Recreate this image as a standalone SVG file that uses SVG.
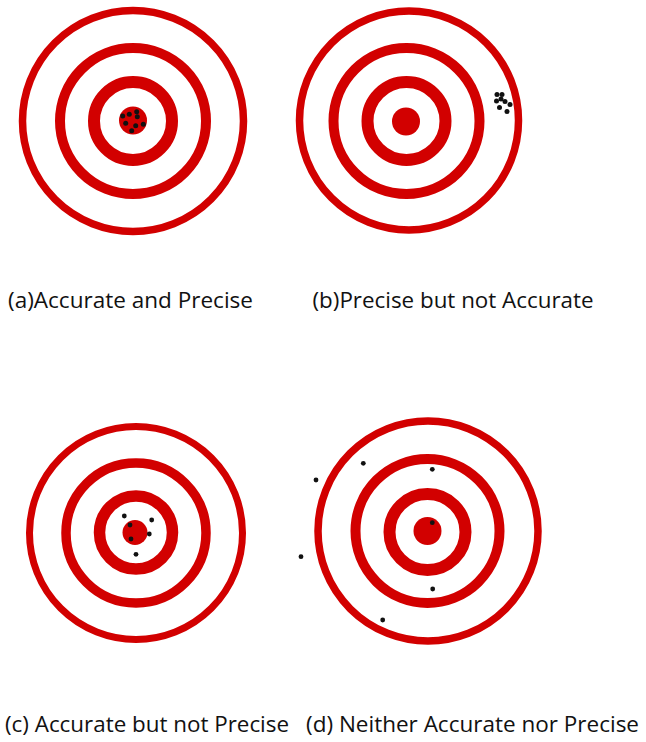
<svg xmlns="http://www.w3.org/2000/svg" width="646" height="742" viewBox="0 0 646 742">
<style>
.ring{fill:none;stroke:#d20000}
.bull{fill:#d20000}
.hit{fill:#111111}
.lbl{font-family:"Open Sans","Noto Sans","Liberation Sans",sans-serif;font-size:22.4px;fill:#111111}
</style>
<rect x="0" y="0" width="646" height="742" fill="#ffffff"/>
<g id="target-a">
<circle class="ring" cx="133" cy="121" r="110.5" stroke-width="7.5"/>
<circle class="ring" cx="133" cy="121" r="73" stroke-width="10"/>
<circle class="ring" cx="133" cy="121" r="39" stroke-width="12"/>
<circle class="bull" cx="133" cy="120.5" r="14"/>
<circle class="hit" cx="122.7" cy="116" r="2.5"/>
<circle class="hit" cx="129.3" cy="114.3" r="2.5"/>
<circle class="hit" cx="136.7" cy="111.7" r="2.5"/>
<circle class="hit" cx="137.3" cy="116.7" r="2.5"/>
<circle class="hit" cx="125.7" cy="123.3" r="2.5"/>
<circle class="hit" cx="135.7" cy="125.7" r="2.5"/>
<circle class="hit" cx="143.3" cy="124.3" r="2.5"/>
<circle class="hit" cx="131.7" cy="130.7" r="2.5"/>
</g>
<g id="target-b">
<circle class="ring" cx="409" cy="120.5" r="109.5" stroke-width="7.5"/>
<circle class="ring" cx="406.5" cy="121" r="73" stroke-width="10"/>
<circle class="ring" cx="406.5" cy="121" r="39" stroke-width="12"/>
<circle class="bull" cx="406" cy="121.5" r="14"/>
<circle class="hit" cx="497" cy="94.5" r="2.5"/>
<circle class="hit" cx="502" cy="94.5" r="2.5"/>
<circle class="hit" cx="496.5" cy="101" r="2.5"/>
<circle class="hit" cx="501" cy="99" r="2.5"/>
<circle class="hit" cx="505" cy="101.5" r="2.5"/>
<circle class="hit" cx="510" cy="104.5" r="2.5"/>
<circle class="hit" cx="499.5" cy="107.5" r="2.5"/>
<circle class="hit" cx="507" cy="111.5" r="2.5"/>
</g>
<g id="target-c">
<circle class="ring" cx="136" cy="533" r="106.5" stroke-width="7"/>
<circle class="ring" cx="136" cy="533" r="70" stroke-width="9.5"/>
<circle class="ring" cx="136" cy="532.5" r="36.5" stroke-width="11.5"/>
<circle class="bull" cx="135" cy="532.5" r="12.5"/>
<circle class="hit" cx="124.3" cy="516" r="2.4"/>
<circle class="hit" cx="151.7" cy="520" r="2.4"/>
<circle class="hit" cx="130" cy="525" r="2.4"/>
<circle class="hit" cx="149.3" cy="534" r="2.4"/>
<circle class="hit" cx="131" cy="539" r="2.4"/>
<circle class="hit" cx="136" cy="554.3" r="2.4"/>
</g>
<g id="target-d">
<circle class="ring" cx="428" cy="531" r="110" stroke-width="7.5"/>
<circle class="ring" cx="427.5" cy="531" r="72" stroke-width="10"/>
<circle class="ring" cx="427.5" cy="532" r="38" stroke-width="12"/>
<circle class="bull" cx="427.5" cy="531" r="14"/>
<circle class="hit" cx="363.3" cy="463.3" r="2.4"/>
<circle class="hit" cx="316" cy="480" r="2.4"/>
<circle class="hit" cx="432.3" cy="469.3" r="2.4"/>
<circle class="hit" cx="432.3" cy="522.7" r="2.4"/>
<circle class="hit" cx="301" cy="556.7" r="2.4"/>
<circle class="hit" cx="432.7" cy="589" r="2.4"/>
<circle class="hit" cx="382.7" cy="620" r="2.4"/>
</g>
<g id="labels">
<text class="lbl" x="8" y="307.5" textLength="245" lengthAdjust="spacingAndGlyphs">(a)Accurate and Precise</text>
<text class="lbl" x="312.5" y="307.5" textLength="281" lengthAdjust="spacingAndGlyphs">(b)Precise but not Accurate</text>
<text class="lbl" x="5" y="732" textLength="284" lengthAdjust="spacingAndGlyphs">(c) Accurate but not Precise</text>
<text class="lbl" x="306" y="732" textLength="333" lengthAdjust="spacingAndGlyphs">(d) Neither Accurate nor Precise</text>
</g>
</svg>
